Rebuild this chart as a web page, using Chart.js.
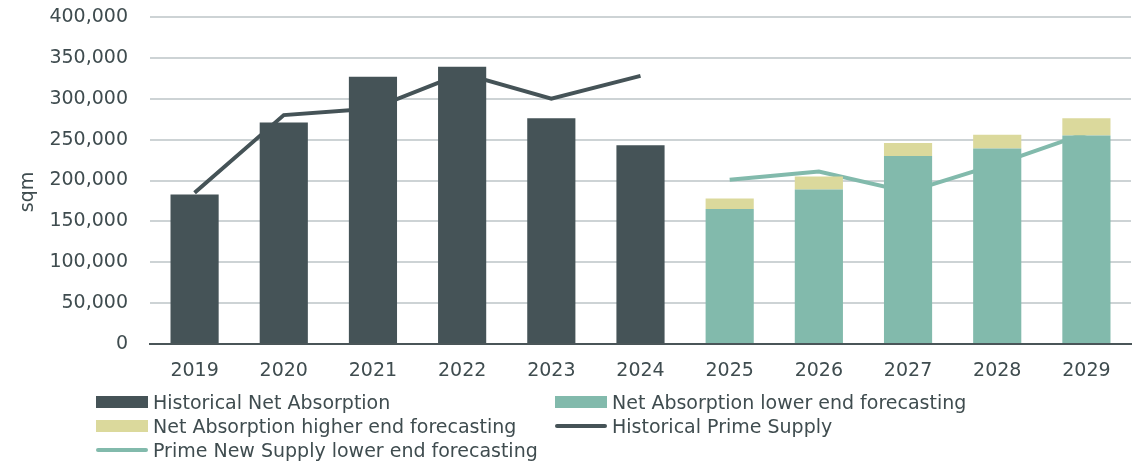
<!DOCTYPE html>
<html>
<head>
<meta charset="utf-8">
<title>Net absorption and prime supply</title>
<script src="https://cdn.jsdelivr.net/npm/chart.js@4.4.1/dist/chart.umd.min.js"></script>
<style>
  html, body { margin: 0; padding: 0; background: #ffffff; }
  #wrap { position: relative; width: 1140px; height: 464px; }
  #legend { position: absolute; left: 0; top: 390px; width: 1140px; height: 72px;
            font-family: "DejaVu Sans", sans-serif; font-size: 19px; color: #3f4c4f; }
  .item { position: absolute; display: flex; align-items: center; height: 24px; white-space: nowrap; }
  .sw { width: 52px; margin-right: 5px; flex: none; }
</style>
</head>
<body>
<div id="wrap">
  <canvas id="c"></canvas>
  <div id="legend"></div>
</div>
<script>
// Categories (years)
const years = ['2019', '2020', '2021', '2022', '2023', '2024', '2025', '2026', '2027', '2028', '2029'];

// Bars, sqm
const historicalAbsorption = [183000, 271000, 327000, 339000, 276000, 243000, null, null, null, null, null];
const lowerForecast        = [null, null, null, null, null, null, 165000, 189000, 230000, 239000, 255000];
// Extra on top of the lower-end forecast, up to the higher end
const higherForecastExtra  = [null, null, null, null, null, null, 13000, 16000, 16000, 17000, 21000];

// Lines, sqm
const historicalSupply     = [185000, 280000, 288000, 331000, 300000, 328000, null, null, null, null, null];
const supplyForecast       = [null, null, null, null, null, null, 201000, 211000, 186000, 220000, 258000];

// Axis
const yMax = 400000;
const yStep = 50000;

const DARK = '#455357';
const TEAL = '#82baac';
const BEIGE = '#dbd99c';
const GRID = '#cdd3d5';
const TEXT = '#3f4c4f';

Chart.defaults.font.family = '"DejaVu Sans", sans-serif';
Chart.defaults.font.size = 19;
Chart.defaults.color = TEXT;

const datasets = [
  { type: 'bar', label: 'Historical Net Absorption', data: historicalAbsorption,
    backgroundColor: DARK, stack: 'bars', order: 0, legendKind: 'box' },
  { type: 'bar', label: 'Net Absorption lower end forecasting', data: lowerForecast,
    backgroundColor: TEAL, stack: 'bars', order: 0, legendKind: 'box' },
  { type: 'bar', label: 'Net Absorption higher end forecasting', data: higherForecastExtra,
    backgroundColor: BEIGE, stack: 'bars', order: 0, legendKind: 'box' },
  { type: 'line', label: 'Historical Prime Supply', data: historicalSupply,
    borderColor: DARK, backgroundColor: DARK, borderWidth: 4, pointRadius: 0,
    tension: 0, stack: 'hist', order: 1, legendKind: 'line' },
  { type: 'line', label: 'Prime New Supply lower end forecasting', data: supplyForecast,
    borderColor: TEAL, backgroundColor: TEAL, borderWidth: 4, pointRadius: 0,
    tension: 0, stack: 'fcst', order: 1, legendKind: 'line' }
];

// Rotated unit label beside the value axis
const unitLabel = {
  id: 'unitLabel',
  afterDraw(chart) {
    const ctx = chart.ctx;
    ctx.save();
    ctx.translate(28, 192);
    ctx.rotate(-Math.PI / 2);
    ctx.fillStyle = TEXT;
    ctx.font = '19px "DejaVu Sans", sans-serif';
    ctx.textAlign = 'center';
    ctx.textBaseline = 'middle';
    ctx.fillText('sqm', 0, 0);
    ctx.restore();
  }
};

new Chart(document.getElementById('c'), {
  data: { labels: years, datasets },
  options: {
    responsive: true,
    maintainAspectRatio: false,
    animation: false,
    layout: { padding: { left: 0, right: 9, top: 17, bottom: 80 } },
    datasets: {
      bar: { barPercentage: 0.54, categoryPercentage: 1.0 }
    },
    plugins: { legend: { display: false }, tooltip: { enabled: false } },
    scales: {
      x: {
        stacked: true,
        grid: { display: false, drawTicks: false },
        border: { display: true, color: '#4a5558', width: 2 },
        ticks: { padding: 16, color: TEXT },
        afterFit(scale) { scale.height = 40; }
      },
      y: {
        stacked: true,
        min: 0,
        max: yMax,
        grid: {
          drawTicks: false,
          lineWidth: 2,
          color: (c) => (c.tick && c.tick.value === 0 ? '#4a5558' : GRID)
        },
        border: { display: false },
        ticks: {
          stepSize: yStep,
          padding: 22,
          color: TEXT,
          callback: (v) => Number(v).toLocaleString('en-US')
        },
        afterFit(scale) {
          scale.width = 150;
          scale.paddingTop = 0;
          scale.paddingBottom = 0;
        }
      }
    }
  },
  plugins: [unitLabel]
});

// Two-column legend below the plot
const legendSlots = [
  { col: 0, row: 0 }, { col: 1, row: 0 }, { col: 0, row: 1 }, { col: 1, row: 1 }, { col: 0, row: 2 }
];
const colX = [96, 555];
const rowH = 24;
const legendEl = document.getElementById('legend');
datasets.forEach((ds, i) => {
  const slot = legendSlots[i];
  const item = document.createElement('div');
  item.className = 'item';
  item.style.left = colX[slot.col] + 'px';
  item.style.top = (slot.row * rowH) + 'px';
  const sw = document.createElement('span');
  sw.className = 'sw';
  if (ds.legendKind === 'box') {
    sw.style.height = '12px';
    sw.style.background = ds.backgroundColor;
  } else {
    sw.style.height = '4px';
    sw.style.borderRadius = '2px';
    sw.style.background = ds.borderColor;
  }
  const txt = document.createElement('span');
  txt.textContent = ds.label;
  item.appendChild(sw);
  item.appendChild(txt);
  legendEl.appendChild(item);
});
</script>
</body>
</html>
